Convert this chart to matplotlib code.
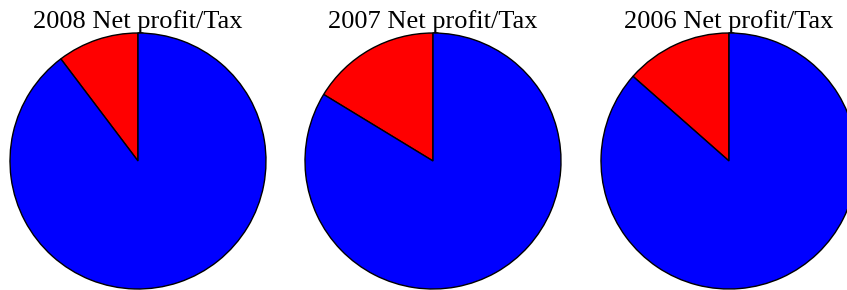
import matplotlib.pyplot as plt

years = ['2008', '2007', '2006']
tax_share = [0.103, 0.163, 0.135]
profit_share = [0.897, 0.837, 0.865]
colors = ['red', 'blue']

W, H = 847, 290
centers_x = [138, 433, 729]
cy = 161
r = 128

fig = plt.figure(figsize=(W / 100, H / 100), dpi=100)

for year, tax, profit, cx in zip(years, tax_share, profit_share, centers_x):
    ax = fig.add_axes([(cx - r) / W, (H - cy - r) / H, 2 * r / W, 2 * r / H])
    ax.pie([tax, profit], colors=colors, startangle=90, counterclock=True,
           wedgeprops=dict(edgecolor='black', linewidth=1))
    ax.set_xlim(-1, 1)
    ax.set_ylim(-1, 1)
    ax.set_aspect('auto')
    ax.axis('off')
    fig.text(cx / W, (H - 28) / H, f'{year} Net profit/Tax', ha='center', va='baseline',
             family='Liberation Serif', fontsize=19)

fig.savefig('out.png', dpi=100)
